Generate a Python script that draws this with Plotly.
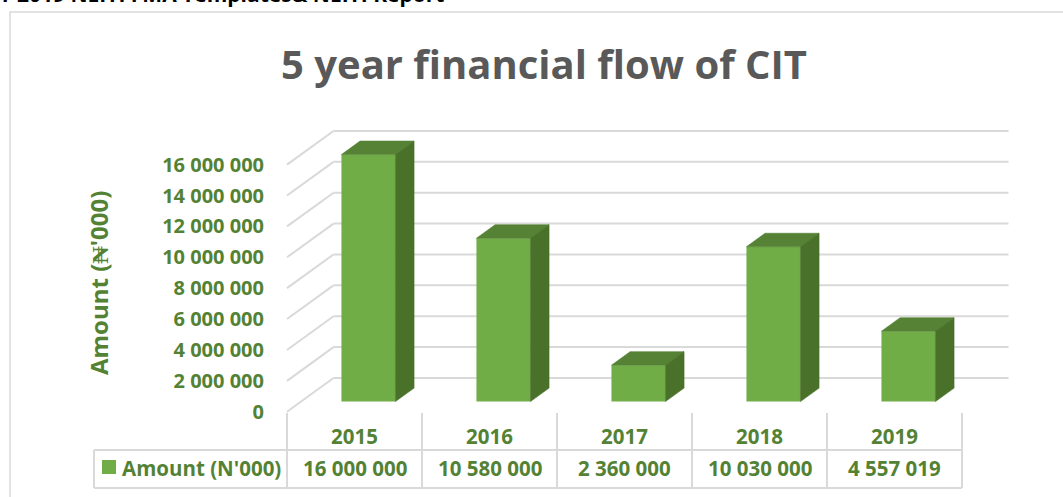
import plotly.graph_objects as go

# ---- data -------------------------------------------------------------
years = ["2015", "2016", "2017", "2018", "2019"]
amounts = [16000000, 10580000, 2360000, 10030000, 4557019]
tick_values = [0, 2000000, 4000000, 6000000, 8000000, 10000000, 12000000, 14000000, 16000000]
series_name = "Amount (N'000)"
chart_title = "5 year financial flow of CIT"
axis_title = "Amount (\u20a6'000)"
page_header = "r 2019 NEITI FMA Templates& NEITI Report"

# ---- canvas / plot-area geometry (pixels) ----------------------------
W, H = 1063, 497
PL, PR, PT, PB = 280, 1012, 118, 492        # plot area edges
FRONT_X0 = 287                               # front edge of floor, left
CAT_PX = 135                                 # width of one category
ZERO_PY = 411.7                              # value 0 on the front plane
PX_PER_UNIT = 15.44 / 1e6                    # pixels per unit of value

x_lo = -0.5 - (FRONT_X0 - PL) / CAT_PX
x_hi = -0.5 + (PR - FRONT_X0) / CAT_PX
y_lo = (ZERO_PY - PB) / PX_PER_UNIT
y_hi = (ZERO_PY - PT) / PX_PER_UNIT

# oblique depth vector (front plane -> back wall) in data units
DX = 46.5 / CAT_PX
DY = 33.7 / PX_PER_UNIT
D_FRONT, D_BACK = 0.3, 0.7                   # bar depth span
BAR_W = 0.4

GREEN_FRONT = "#70AD47"
GREEN_TOP = "#568235"
GREEN_SIDE = "#4A7129"
TEXT_GREEN = "#548235"
GRID = "#D9D9D9"
FONT = "Open Sans"


def paper_x(px):
    return (px - PL) / (PR - PL)


def paper_y(py):
    return (PB - py) / (PB - PT)


def fmt(v):
    return f"{v:,}".replace(",", " ")


fig = go.Figure()

# ---- bars: front faces ---------------------------------------------
idx = list(range(len(years)))
fig.add_trace(go.Bar(
    x=[i + D_FRONT * DX for i in idx],
    y=amounts,
    base=[D_FRONT * DY] * len(amounts),
    width=BAR_W,
    marker=dict(color=GREEN_FRONT, line=dict(width=0)),
    hoverinfo="skip",
    showlegend=False,
))

# ---- bars: top and side faces ---------------------------------------
ddx = (D_BACK - D_FRONT) * DX
ddy = (D_BACK - D_FRONT) * DY
top_x, top_y, side_x, side_y = [], [], [], []
for i, v in zip(idx, amounts):
    xl = i - BAR_W / 2 + D_FRONT * DX
    xr = i + BAR_W / 2 + D_FRONT * DX
    b = D_FRONT * DY
    t = v + D_FRONT * DY
    top_x += [xl, xl + ddx, xr + ddx, xr, xl, None]
    top_y += [t, t + ddy, t + ddy, t, t, None]
    side_x += [xr, xr + ddx, xr + ddx, xr, xr, None]
    side_y += [b, b + ddy, t + ddy, t, b, None]

fig.add_trace(go.Scatter(x=top_x, y=top_y, mode="lines", fill="toself",
                         fillcolor=GREEN_TOP, line=dict(width=0.6, color=GREEN_TOP),
                         hoverinfo="skip", showlegend=False))
fig.add_trace(go.Scatter(x=side_x, y=side_y, mode="lines", fill="toself",
                         fillcolor=GREEN_SIDE, line=dict(width=0.6, color=GREEN_SIDE),
                         hoverinfo="skip", showlegend=False))

shapes = []
# back-wall gridlines and oblique side-wall lines
for v in tick_values:
    shapes.append(dict(type="line", xref="x", yref="y", layer="below",
                       x0=-0.5 + DX, y0=v + DY, x1=len(years) - 0.5 + DX, y1=v + DY,
                       line=dict(color=GRID, width=2)))
    shapes.append(dict(type="line", xref="x", yref="y", layer="below",
                       x0=-0.5, y0=v, x1=-0.5 + DX, y1=v + DY,
                       line=dict(color=GRID, width=2)))

# data table grid
row_top, row_mid, row_bot = 413, 450, 488
for k in range(len(years) + 1):
    shapes.append(dict(type="line", xref="x", yref="paper",
                       x0=k - 0.5, x1=k - 0.5, y0=paper_y(row_top), y1=paper_y(row_bot),
                       line=dict(color=GRID, width=2)))
right_px = FRONT_X0 + CAT_PX * len(years)
for py in (row_mid, row_bot):
    shapes.append(dict(type="line", xref="paper", yref="paper",
                       x0=paper_x(94), x1=paper_x(right_px), y0=paper_y(py), y1=paper_y(py),
                       line=dict(color=GRID, width=2)))
shapes.append(dict(type="line", xref="paper", yref="paper",
                   x0=paper_x(94), x1=paper_x(94), y0=paper_y(row_mid), y1=paper_y(row_bot),
                   line=dict(color=GRID, width=2)))
# legend key square
shapes.append(dict(type="rect", xref="paper", yref="paper",
                   x0=paper_x(102), x1=paper_x(116), y0=paper_y(474), y1=paper_y(460),
                   fillcolor=GREEN_FRONT, line=dict(width=0)))
# chart frame
shapes.append(dict(type="rect", xref="paper", yref="paper",
                   x0=paper_x(10), x1=paper_x(W + 5), y0=paper_y(12), y1=paper_y(H + 5),
                   fillcolor="rgba(0,0,0,0)", line=dict(color=GRID, width=1.5)))

annotations = []
cell_font = dict(family=FONT, size=20.5, color=TEXT_GREEN, weight="bold")
for i, (yr, v) in enumerate(zip(years, amounts)):
    annotations.append(dict(x=i, y=paper_y(436), xref="x", yref="paper", text=yr,
                            showarrow=False, font=cell_font, xanchor="center", yanchor="middle"))
    annotations.append(dict(x=i, y=paper_y(468), xref="x", yref="paper", text=fmt(v),
                            showarrow=False, font=cell_font, xanchor="center", yanchor="middle"))
annotations.append(dict(x=paper_x(120), y=paper_y(468), xref="paper", yref="paper",
                        text=series_name, showarrow=False, font=cell_font,
                        xanchor="left", yanchor="middle"))
annotations.append(dict(x=paper_x(544), y=paper_y(63), xref="paper", yref="paper",
                        text=chart_title, showarrow=False,
                        font=dict(family=FONT, size=40, color="#595959", weight="bold"),
                        xanchor="center", yanchor="middle"))
annotations.append(dict(x=paper_x(98), y=paper_y(283), xref="paper", yref="paper",
                        text=axis_title, showarrow=False, textangle=-90,
                        font=dict(family=FONT, size=24, color=TEXT_GREEN, weight="bold"),
                        xanchor="center", yanchor="middle"))
annotations.append(dict(x=paper_x(0), y=paper_y(-6), xref="paper", yref="paper",
                        text=page_header, showarrow=False,
                        font=dict(family=FONT, size=21, color="#000000", weight="bold"),
                        xanchor="left", yanchor="middle"))

fig.update_layout(
    width=W, height=H,
    margin=dict(l=PL, r=W - PR, t=PT, b=H - PB, autoexpand=False),
    paper_bgcolor="white", plot_bgcolor="white",
    showlegend=False,
    shapes=shapes,
    annotations=annotations,
    xaxis=dict(range=[x_lo, x_hi], visible=False, fixedrange=True),
    yaxis=dict(range=[y_lo, y_hi], showgrid=False, zeroline=False, showline=False,
               tickmode="array", tickvals=tick_values, ticktext=[fmt(v) for v in tick_values],
               ticks="", ticklabelstandoff=15,
               tickfont=dict(family=FONT, size=20, color=TEXT_GREEN, weight="bold"),
               fixedrange=True),
)

fig.write_html("out.html")
